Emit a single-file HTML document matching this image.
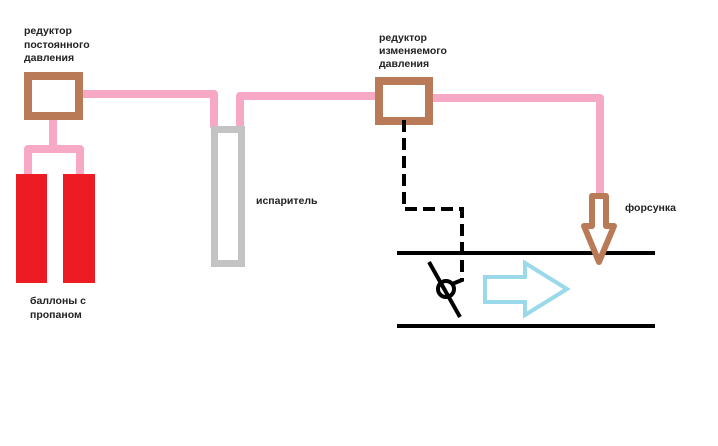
<!DOCTYPE html>
<html><head><meta charset="utf-8"><style>
html,body{margin:0;padding:0;background:#fff;}
.t{font-family:"Liberation Sans","DejaVu Sans",sans-serif;font-size:10.5px;font-weight:bold;fill:#222;}
</style></head><body>
<svg width="718" height="441" viewBox="0 0 718 441" xmlns="http://www.w3.org/2000/svg">
<g fill="none" stroke="#f7a8c4" stroke-width="8" stroke-linecap="round" stroke-linejoin="round">
<polyline points="81,94 214,94 214,126"/>
<polyline points="240,126 240,96 378,96"/>
<polyline points="432,98 600,98 600,194"/>
<polyline points="53,120 53,149"/>
<polyline points="28,175 28,149 80,149 80,175"/>
</g>
<rect x="16" y="174" width="31" height="109" fill="#ed1c24"/>
<rect x="63" y="174" width="32" height="109" fill="#ed1c24"/>
<rect x="28" y="76" width="51" height="40" fill="#fff" stroke="#b97a57" stroke-width="8"/>
<rect x="379" y="81" width="50" height="40" fill="#fff" stroke="#b97a57" stroke-width="8"/>
<rect x="214.5" y="129.5" width="27" height="134" fill="none" stroke="#c3c3c3" stroke-width="7"/>
<g stroke="#000" stroke-width="4" fill="none">
<line x1="397" y1="253" x2="655" y2="253"/>
<line x1="397" y1="326" x2="655" y2="326"/>
<polyline points="404,120 404,209 462,209 462,280 452,284" stroke-dasharray="12,6"/>
<circle cx="446" cy="289" r="8"/>
<line x1="429" y1="262" x2="460" y2="317"/>
</g>
<path d="M592,196 L606,196 L606,226 L614,226 L599,262 L584,226 L592,226 Z" fill="#fff" stroke="#b97a57" stroke-width="6" stroke-linejoin="round"/>
<path d="M485,277 L525,277 L525,263 L567,289 L525,315 L525,302 L485,302 Z" fill="none" stroke="#99d9ea" stroke-width="4"/>
<text class="t" x="24" y="34">редуктор</text>
<text class="t" x="24" y="48">постоянного</text>
<text class="t" x="24" y="61">давления</text>
<text class="t" x="30" y="304">баллоны с</text>
<text class="t" x="30" y="318">пропаном</text>
<text class="t" x="256" y="204">испаритель</text>
<text class="t" x="379" y="41">редуктор</text>
<text class="t" x="379" y="54">изменяемого</text>
<text class="t" x="379" y="67">давления</text>
<text class="t" x="625" y="211">форсунка</text>
</svg>
</body></html>
